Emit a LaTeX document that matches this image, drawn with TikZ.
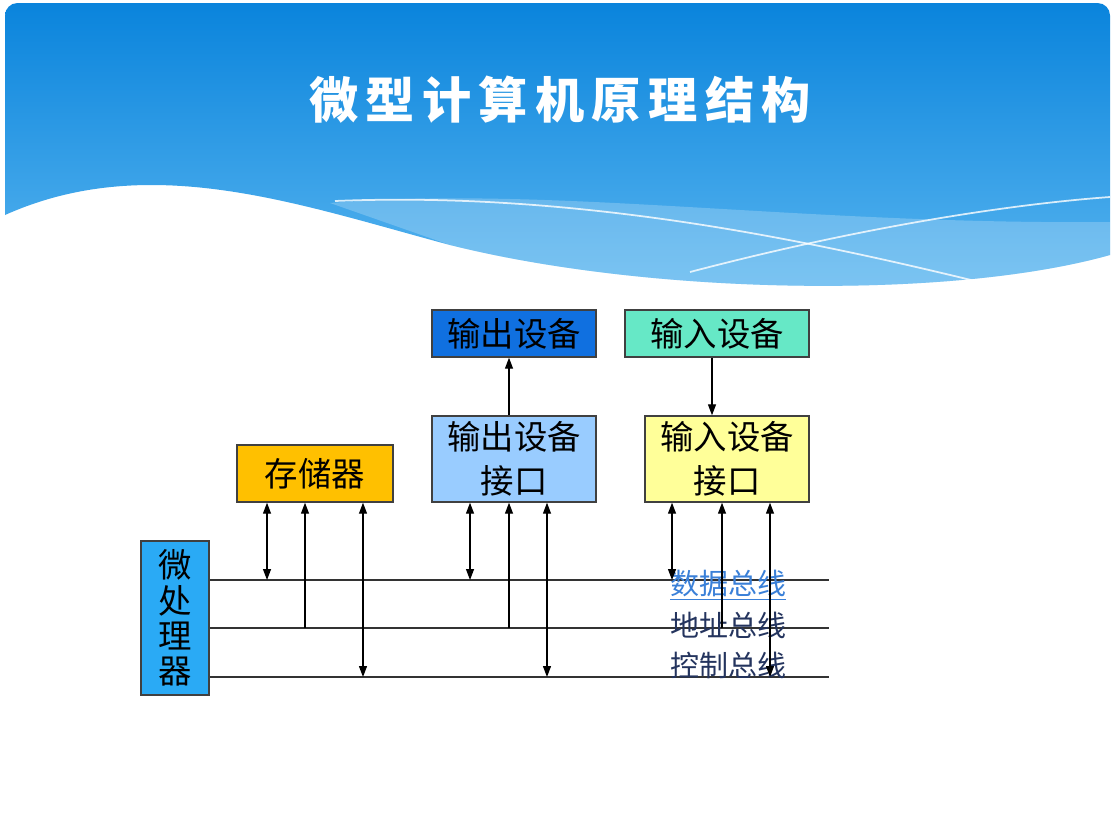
\documentclass[tikz,border=0pt]{standalone}
\usepackage{fontspec}
\usepackage{xcolor}
\usepackage{tikz}
\usetikzlibrary{arrows.meta,calc}
\newfontfamily\cjk{Noto Sans CJK SC}
\definecolor{hdrtop}{HTML}{0A84DC}
\definecolor{hdrbot}{HTML}{5AB6F0}
\definecolor{outdev}{HTML}{1070E0}
\definecolor{indev}{HTML}{66E8C6}
\definecolor{memfill}{HTML}{FFC000}
\definecolor{outif}{HTML}{99CCFF}
\definecolor{inif}{HTML}{FFFF99}
\definecolor{cpufill}{HTML}{2AAAF5}
\definecolor{linkblue}{HTML}{3A80D8}
\definecolor{busnavy}{HTML}{24345E}

\begin{document}
\begin{tikzpicture}[x=0.02cm,y=-0.02cm,
		box/.style={draw=black!75,line width=0.8pt,align=center,inner sep=0pt,font=\cjk\fontsize{19}{25}\selectfont},
		e/.style={-{Triangle[length=2.2mm,width=1.6mm]},line width=0.7pt},
		ee/.style={{Triangle[length=2.2mm,width=1.6mm]}-{Triangle[length=2.2mm,width=1.6mm]},line width=0.7pt},
		bus/.style={line width=0.8pt,draw=black!80},
		buslbl/.style={font=\cjk\fontsize{16.5}{18}\selectfont}
		]
		\useasboundingbox[fill=white] (0,0) rectangle (1115,822);
		% header
		\shade[top color=hdrtop,bottom color=hdrbot] (5,215) [rounded corners=0.25cm] -- (5,3) -- (1110,3) [sharp corners] -- (1110,255) .. controls (950,300) and (650,295) .. (450,245) .. controls (300,205) and (150,150) .. (5,215) -- cycle;
		\fill[white,opacity=0.22] (330,203) .. controls (550,185) and (800,225) .. (1110,222) -- (1110,255) .. controls (950,300) and (650,295) .. (450,245) -- cycle;
		\draw[white,line width=1pt,opacity=0.8] (335,201) .. controls (600,190) and (850,250) .. (1020,292);
		\draw[white,line width=1pt,opacity=0.8] (690,272) .. controls (850,230) and (1000,205) .. (1110,197);
		\node[font=\cjk\bfseries\fontsize{28}{30}\selectfont\addfontfeature{LetterSpace=15},text=white] (title) at (560,100) {微型计算机原理结构};
		% blocks
		\node[box,fill=outdev,minimum width=3.28cm,minimum height=0.94cm] (odev) at (514,333.5) {输出设备};
		\node[box,fill=indev,minimum width=3.68cm,minimum height=0.94cm] (idev) at (717,333.5) {输入设备};
		\node[box,fill=memfill,minimum width=3.12cm,minimum height=1.14cm] (mem) at (315,473.5) {存储器};
		\node[box,fill=outif,minimum width=3.28cm,minimum height=1.72cm] (oif) at (514,459) {输出设备\\接口};
		\node[box,fill=inif,minimum width=3.28cm,minimum height=1.72cm] (iif) at (727,459) {输入设备\\接口};
		\node[box,fill=cpufill,minimum width=1.36cm,minimum height=3.08cm,font=\cjk\fontsize{19}{20}\selectfont] (cpu) at (175,618) {微\\处\\理\\器};
		% buses
		\coordinate (dbus) at (829,580);
		\coordinate (abus) at (829,628);
		\coordinate (cbus) at (829,677);
		\draw[bus] (cpu.east |- dbus) -- (dbus);
		\draw[bus] (cpu.east |- abus) -- (abus);
		\draw[bus] (cpu.east |- cbus) -- (cbus);
		\node[buslbl,text=linkblue] (dlbl) at (728,585) {\underline{数据总线}};
		\node[buslbl,text=busnavy] (albl) at (728,625) {地址总线};
		\node[buslbl,text=busnavy] (clbl) at (728,665) {控制总线};
		% taps
		\draw[ee] ([xshift=-0.96cm]mem.south) -- ([xshift=-0.96cm]mem.south |- dbus);
		\draw[e] ([xshift=-0.2cm]mem.south |- abus) -- ([xshift=-0.2cm]mem.south);
		\draw[ee] ([xshift=0.96cm]mem.south) -- ([xshift=0.96cm]mem.south |- cbus);
		\draw[ee] ([xshift=-0.88cm]oif.south) -- ([xshift=-0.88cm]oif.south |- dbus);
		\draw[e] ([xshift=-0.1cm]oif.south |- abus) -- ([xshift=-0.1cm]oif.south);
		\draw[ee] ([xshift=0.66cm]oif.south) -- ([xshift=0.66cm]oif.south |- cbus);
		\draw[ee] ([xshift=-1.1cm]iif.south) -- ([xshift=-1.1cm]iif.south |- dbus);
		\draw[e] ([xshift=-0.1cm]iif.south |- abus) -- ([xshift=-0.1cm]iif.south);
		\draw[ee] ([xshift=0.86cm]iif.south) -- ([xshift=0.86cm]iif.south |- cbus);
		% devices
		\draw[e] ([xshift=-0.1cm]oif.north) -- ([xshift=-0.1cm]odev.south);
		\draw[e] ([xshift=-0.1cm]idev.south) -- ([xshift=-0.1cm]idev.south |- iif.north);
	\end{tikzpicture}
\end{document}
